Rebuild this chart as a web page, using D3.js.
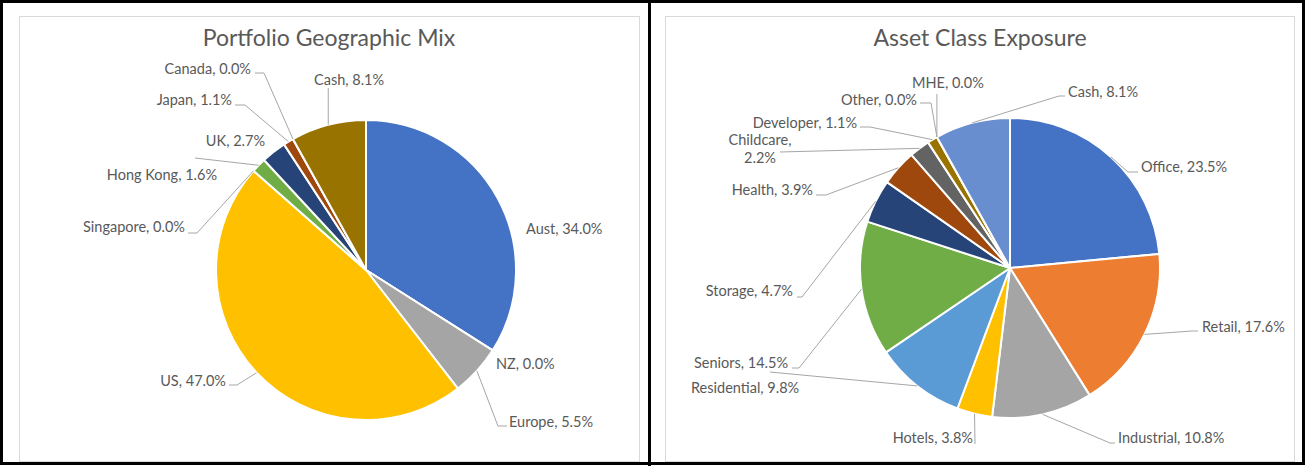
<!DOCTYPE html>
<head>
    <script src="https://d3js.org/d3.v7.min.js"></script>
    <style>
body { margin: 0; background: #fff; }
svg { display: block; font-family: "Lato", "Open Sans", sans-serif; }
</style>
</head>
<body>
    <svg></svg>
</body>

<script>
    // chart values
    var geoNames  = ["Aust", "NZ", "Europe", "US", "Singapore", "Hong Kong", "UK", "Japan", "Canada", "Cash"];
    var geoValues = [34.0, 0.0, 5.5, 47.0, 0.0, 1.6, 2.7, 1.1, 0.0, 8.1];

    var assetNames  = ["Office", "Retail", "Industrial", "Hotels", "Residential", "Seniors", "Storage",
                       "Health", "Childcare", "Developer", "Other", "MHE", "Cash"];
    var assetValues = [23.5, 17.6, 10.8, 3.8, 9.8, 14.5, 4.7, 3.9, 2.2, 1.1, 0.0, 0.0, 8.1];

    var geoColors   = ["#4472C4", "#ED7D31", "#A5A5A5", "#FFC000", "#5B9BD5", "#70AD47", "#264478", "#9E480E", "#636363", "#997300"];
    var assetColors = ["#4472C4", "#ED7D31", "#A5A5A5", "#FFC000", "#5B9BD5", "#70AD47", "#264478", "#9E480E", "#636363", "#997300", "#F1975A", "#B7B7B7", "#698ED0"];

    // label placement (relative to pie centre): anchor, x, y, leader start offset, stub
    var geoLabels = {
        "Aust":      {a: "start", x: 160,  y: -36},
        "NZ":        {a: "start", x: 130,  y: 99},
        "Europe":    {a: "start", x: 143,  y: 157, from: [-2, -1], stub: -9},
        "US":        {a: "end",   x: -140, y: 116, from: [3, -1], stub: 8},
        "Singapore": {a: "end",   x: -181, y: -38, from: [3, 1], stub: 9},
        "Hong Kong": {a: "end",   x: -149, y: -90, from: [-22, -22], stub: 0},
        "UK":        {a: "end",   x: -101, y: -124},
        "Japan":     {a: "end",   x: -134, y: -165, from: [3, 0], stub: 10},
        "Canada":    {a: "end",   x: -115, y: -196, from: [4, -1], stub: 9},
        "Cash":      {a: "start", x: -52,  y: -185, vert: 3}
    };
    var assetLabels = {
        "Office":      {a: "start",  x: 131,  y: -96, from: [-3, 0], stub: -10},
        "Retail":      {a: "start",  x: 192,  y: 64,  from: [-4, -1], stub: -6},
        "Industrial":  {a: "start",  x: 108,  y: 175, from: [-3, 0], stub: -5},
        "Hotels":      {a: "end",    x: -37,  y: 175, from: [2, 1], stub: 0},
        "Residential": {a: "start",  x: -319, y: 125, from: [79, -21], stub: 0},
        "Seniors":     {a: "end",    x: -222, y: 100, from: [4, 0], stub: 7},
        "Storage":     {a: "end",    x: -217, y: 28,  from: [4, 1], stub: 5},
        "Health":      {a: "end",    x: -197, y: -73, from: [3, 0], stub: 10},
        "Childcare":   {a: "middle", x: -250, y: -123, from: [20, 7], stub: 0, wrap: true},
        "Developer":   {a: "end",    x: -153, y: -140, from: [3, -1], stub: 10},
        "Other":       {a: "end",    x: -93,  y: -163, from: [3, -2], stub: 11},
        "MHE":         {a: "start",  x: -98,  y: -180, vert: 6},
        "Cash":        {a: "start",  x: 58,   y: -171, from: [-3, -1], stub: -6}
    };

    var width = 1306;
    var height = 466;
    var radius = 150;
    var textColor = "#595959";

    var svg = d3.select('svg')
        .attr('width', width)
        .attr('height', height);

    svg.append('rect').attr('width', width).attr('height', height).attr('fill', '#fff');

    // panel frames
    svg.append('rect').attr('x', 19.5).attr('y', 16.5).attr('width', 620).attr('height', 445)
        .attr('fill', 'none').attr('stroke', '#D9D9D9');
    svg.append('rect').attr('x', 665.5).attr('y', 16.5).attr('width', 629).attr('height', 445)
        .attr('fill', 'none').attr('stroke', '#D9D9D9');

    // outer black border and divider
    svg.append('rect').attr('x', 1.5).attr('y', 1.5).attr('width', 1302).attr('height', 462)
        .attr('fill', 'none').attr('stroke', '#000').attr('stroke-width', 3);
    svg.append('line').attr('x1', 649.5).attr('x2', 649.5).attr('y1', 0).attr('y2', height)
        .attr('stroke', '#000').attr('stroke-width', 3);

    function drawPie(cx, cy, title, titleX, names, values, colors, labels) {
        var g = svg.append('g').attr('transform', 'translate(' + cx + ',' + cy + ')');

        svg.append('text')
            .attr('x', titleX).attr('y', 46)
            .attr('text-anchor', 'middle')
            .style('font-size', '23px')
            .style('fill', textColor)
            .text(title);

        var data = names.map(function (n, i) { return {name: n, value: values[i], color: colors[i]}; });

        var pie = d3.pie().sort(null).value(function (d) { return d.value; });
        var arcs = pie(data);

        var arc = d3.arc().innerRadius(0).outerRadius(radius);
        var edge = d3.arc().innerRadius(radius).outerRadius(radius);

        g.selectAll('path.slice')
            .data(arcs)
            .enter().append('path')
            .attr('class', 'slice')
            .attr('d', arc)
            .style('fill', function (d) { return d.data.color; })
            .style('stroke', '#fff')
            .style('stroke-width', 2)
            .style('stroke-linejoin', 'round');

        arcs.forEach(function (d) {
            var L = labels[d.data.name];
            var txt = d.data.name + ', ' + d.data.value.toFixed(1) + '%';
            var t = g.append('text')
                .attr('x', L.x).attr('y', L.y)
                .attr('text-anchor', L.a)
                .style('font-size', '14.5px')
                .style('fill', textColor);
            if (L.wrap) {
                t.append('tspan').attr('x', L.x).text(d.data.name + ',');
                t.append('tspan').attr('x', L.x).attr('dy', 18).text(d.data.value.toFixed(1) + '%');
            } else {
                t.text(txt);
            }

            var end = edge.centroid(d);
            var pts = null;
            if (L.vert !== undefined) {
                pts = [[end[0], L.y + L.vert], end];
            } else if (L.from) {
                var p0 = [L.x + L.from[0], L.y + L.from[1]];
                pts = [p0];
                if (L.stub) pts.push([p0[0] + L.stub, p0[1]]);
                pts.push(end);
            }
            if (pts) {
                g.append('path')
                    .attr('d', d3.line()(pts))
                    .attr('fill', 'none')
                    .attr('stroke', '#A6A6A6')
                    .attr('stroke-width', 1);
            }
        });
    }

    drawPie(366, 270, 'Portfolio Geographic Mix', 329, geoNames, geoValues, geoColors, geoLabels);
    drawPie(1010, 268, 'Asset Class Exposure', 980, assetNames, assetValues, assetColors, assetLabels);
</script>
